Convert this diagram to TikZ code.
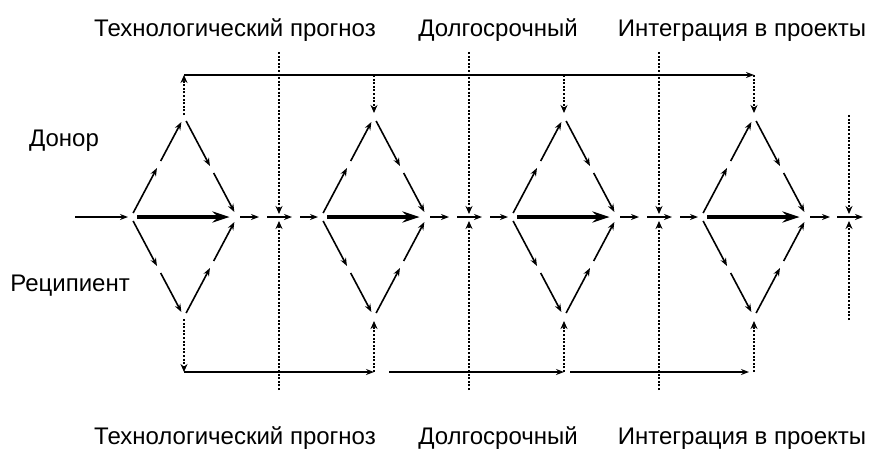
\documentclass[tikz,border=0pt]{standalone}
\usepackage{fontspec}
\setmainfont{Liberation Sans}
\usetikzlibrary{arrows.meta,calc}
\begin{document}
\begin{tikzpicture}[x=1pt,y=-1pt,
  arr/.style={line width=1.6pt,-{Stealth[length=8pt,width=6pt]}},
  seg/.style={line width=1.6pt},
  bigarr/.style={line width=3.5pt,-{Stealth[length=17pt,width=11pt]}},
  dotl/.style={line width=2pt,dash pattern=on 2pt off 1.6pt},
  dotarr/.style={dotl,-{Stealth[length=8pt,width=7pt]}},
  rail/.style={line width=2.3pt},
  railarr/.style={rail,-{Stealth[length=8pt,width=6pt]}},
  lbl/.style={font=\fontsize{24}{28}\selectfont,inner sep=0pt,anchor=base}]
\useasboundingbox (0,0) rectangle (886,464);
% coordinates
\foreach \i in {1,...,4}{
  \pgfmathsetmacro\cx{184+190*(\i-1)}
  \coordinate (L\i) at ({\cx-53},217);
  \coordinate (R\i) at ({\cx+53},217);
  \coordinate (T\i) at (\cx,117);
  \coordinate (B\i) at (\cx,317);
  \coordinate (V\i) at ({\cx+95},217);
  \coordinate (TR\i) at (\cx,75);
  \coordinate (BR\i) at (\cx,372);
}
\foreach \i in {1,2,3}{
  \pgfmathsetmacro\vx{279+190*(\i-1)}
  \coordinate (Vt\i) at (\vx,52);
  \coordinate (Vb\i) at (\vx,390);
}
\coordinate (Vt4) at (849,115);
\coordinate (Vb4) at (849,320);
\coordinate (In) at (75,217);

% diamonds
\foreach \i in {1,...,4}{
  \foreach \a/\b in {L/T,T/R,L/B,B/R}{
    \draw[arr] ($(\a\i)!0.04!(\b\i)$) -- ($(\a\i)!0.49!(\b\i)$);
    \draw[arr] ($(\a\i)!0.56!(\b\i)$) -- ($(\a\i)!0.95!(\b\i)$);
  }
  \draw[bigarr] ($(L\i)!0.06!(R\i)$) -- ($(L\i)!0.93!(R\i)$);
}

% input
\draw[arr] (In) -- ($(L1)+(-3,0)$);

% vertical dotted separators
\foreach \i in {1,...,4}{
  \draw[dotarr] (Vt\i) -- ($(V\i)+(0,-3)$);
  \draw[dotarr] (Vb\i) -- ($(V\i)+(0,4)$);
}

% horizontal links between diamonds
\foreach \i/\j in {1/2,2/3,3/4}{
  \draw[arr] ($(R\i)+(3,0)$) -- ($(R\i)+(22,0)$);
  \draw[seg] ($(R\i)+(30,0)$) -- (V\i);
  \draw[arr] (V\i) -- ($(V\i)+(13,0)$);
  \draw[arr] ($(V\i)+(21,0)$) -- ($(L\j)+(-3,0)$);
}
\draw[arr] ($(R4)+(3,0)$) -- ($(R4)+(23,0)$);
\draw[arr] ($(V4)+(-12,0)$) -- ($(V4)+(14,0)$);

% top rail
\draw[railarr] (TR1) -- (TR4);
\draw[dotarr] ($(T1)+(0,-2)$) -- (TR1);
\foreach \i in {2,3,4}{
  \draw[dotarr] (TR\i) -- ($(T\i)+(0,-4)$);
}

% bottom rail
\draw[dotarr] ($(B1)+(0,2)$) -- (BR1);
\draw[railarr] (BR1) -- (BR2);
\draw[railarr] ($(BR2)+(15,0)$) -- (BR3);
\draw[railarr] ($(BR3)+(6,0)$) -- ($(BR4)+(-5,0)$);
\foreach \i in {2,3,4}{
  \draw[dotarr] (BR\i) -- ($(B\i)+(0,4)$);
}

% labels
\node[lbl] (t1) at (235,36) {Технологический прогноз};
\node[lbl] (t2) at (498,36) {Долгосрочный};
\node[lbl] (t3) at (742,36) {Интеграция в проекты};
\node[lbl] (b1) at (235,444) {Технологический прогноз};
\node[lbl] (b2) at (498,444) {Долгосрочный};
\node[lbl] (b3) at (742,444) {Интеграция в проекты};
\node[lbl] (don) at (64,146) {Донор};
\node[lbl] (rec) at (70,291) {Реципиент};
\end{tikzpicture}
\end{document}
